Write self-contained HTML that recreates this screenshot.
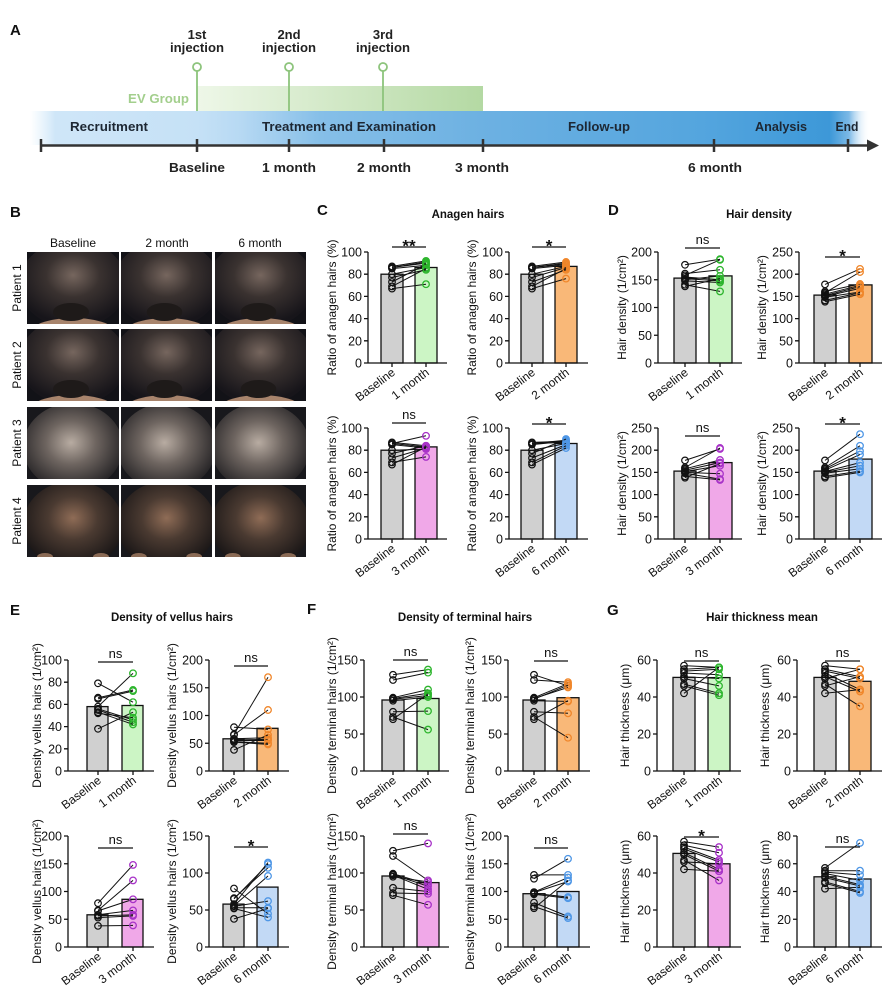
<!DOCTYPE html>
<html><head><meta charset="utf-8">
<style>
html,body{margin:0;padding:0;background:#fff;}
svg{display:block;font-family:"Liberation Sans",Arial,sans-serif;}
.ax path{stroke:#111;stroke-width:1.3;fill:none}
.ax text{font-size:12.5px;text-anchor:end;fill:#111}
.xl{font-size:12px;text-anchor:end;fill:#111}
.yl{font-size:12px;text-anchor:middle;fill:#111}
.bar{stroke:#111;stroke-width:1.3}
.sig{stroke:#111;stroke-width:1.3}
.ns{font-size:13px;text-anchor:middle;fill:#111}
.st{font-size:17px;font-weight:bold;text-anchor:middle;fill:#111}
.pr path{stroke:#111;stroke-width:1;fill:none;marker-start:url(#mk)}
.pg path{marker-end:url(#mg)}
.po path{marker-end:url(#mo)}
.pp path{marker-end:url(#mp)}
.pb path{marker-end:url(#mb)}
.lt{font-weight:bold;font-size:15px;fill:#111}
.ti{font-weight:bold;font-size:11.5px;text-anchor:middle;fill:#111}
.tl{font-weight:bold;font-size:13px;text-anchor:middle;fill:#222}
.hd{font-size:12px;text-anchor:middle;fill:#111}
</style></head>
<body>
<svg width="888" height="990" viewBox="0 0 888 990" xmlns="http://www.w3.org/2000/svg">
<defs>
<marker id="mk" viewBox="0 0 10 10" refX="5" refY="5" markerWidth="10" markerHeight="10" markerUnits="userSpaceOnUse"><circle cx="5" cy="5" r="3.3" fill="none" stroke="#111" stroke-width="1.2"/></marker>
<marker id="mg" viewBox="0 0 10 10" refX="5" refY="5" markerWidth="10" markerHeight="10" markerUnits="userSpaceOnUse"><circle cx="5" cy="5" r="3.3" fill="none" stroke="#2db52d" stroke-width="1.3"/></marker>
<marker id="mo" viewBox="0 0 10 10" refX="5" refY="5" markerWidth="10" markerHeight="10" markerUnits="userSpaceOnUse"><circle cx="5" cy="5" r="3.3" fill="none" stroke="#f0862a" stroke-width="1.3"/></marker>
<marker id="mp" viewBox="0 0 10 10" refX="5" refY="5" markerWidth="10" markerHeight="10" markerUnits="userSpaceOnUse"><circle cx="5" cy="5" r="3.3" fill="none" stroke="#a832c8" stroke-width="1.3"/></marker>
<marker id="mb" viewBox="0 0 10 10" refX="5" refY="5" markerWidth="10" markerHeight="10" markerUnits="userSpaceOnUse"><circle cx="5" cy="5" r="3.3" fill="none" stroke="#4f97e6" stroke-width="1.3"/></marker>
<linearGradient id="blue" gradientUnits="userSpaceOnUse" x1="30" y1="0" x2="870" y2="0">
<stop offset="0" stop-color="#d7ecfa" stop-opacity="0"/>
<stop offset="0.03" stop-color="#cfe6f8"/>
<stop offset="0.2" stop-color="#c5e1f6"/>
<stop offset="0.25" stop-color="#b7d9f3"/>
<stop offset="0.345" stop-color="#86bfe8"/>
<stop offset="0.536" stop-color="#6db1e2"/>
<stop offset="0.8" stop-color="#54a5de"/>
<stop offset="0.952" stop-color="#3d98d8"/>
<stop offset="0.975" stop-color="#7cb9e6"/>
<stop offset="1" stop-color="#ffffff" stop-opacity="0"/>
</linearGradient>
<linearGradient id="green" x1="0" y1="0" x2="1" y2="0">
<stop offset="0" stop-color="#eef7e8"/>
<stop offset="1" stop-color="#b4d9a3"/>
</linearGradient>
<radialGradient id="hf" cx="0.5" cy="0.4" r="0.55">
<stop offset="0" stop-color="#76665e"/><stop offset="0.45" stop-color="#3a3230"/><stop offset="1" stop-color="#17151a"/>
</radialGradient>
<radialGradient id="h3" cx="0.48" cy="0.45" r="0.55">
<stop offset="0" stop-color="#b8aca2"/><stop offset="0.45" stop-color="#6e6560"/><stop offset="1" stop-color="#262426"/>
</radialGradient>
<radialGradient id="h4" cx="0.5" cy="0.42" r="0.55">
<stop offset="0" stop-color="#8f6c56"/><stop offset="0.45" stop-color="#4a3a31"/><stop offset="1" stop-color="#1b1717"/>
</radialGradient>
<symbol id="pf" viewBox="0 0 92 72" preserveAspectRatio="none">
<rect width="92" height="72" fill="#121217"/>
<ellipse cx="46" cy="32" rx="54" ry="44" fill="url(#hf)"/>
<ellipse cx="46" cy="82" rx="44" ry="16" fill="#a8846c"/>
<ellipse cx="44" cy="60" rx="18" ry="9" fill="#1e1a19"/>
</symbol>
<symbol id="pc3" viewBox="0 0 92 72" preserveAspectRatio="none">
<rect width="92" height="72" fill="#18181c"/>
<ellipse cx="46" cy="40" rx="50" ry="44" fill="url(#h3)"/>
</symbol>
<symbol id="pc4" viewBox="0 0 92 72" preserveAspectRatio="none">
<rect width="92" height="72" fill="#18181c"/>
<ellipse cx="46" cy="40" rx="50" ry="44" fill="url(#h4)"/>
<ellipse cx="18" cy="72" rx="8" ry="4" fill="#8a6a55"/>
<ellipse cx="74" cy="72" rx="8" ry="4" fill="#8a6a55"/>
</symbol>
</defs>

<!-- Panel A -->
<text class="lt" x="10" y="35">A</text>
<rect x="197" y="86" width="286" height="25" fill="url(#green)"/>
<rect x="30" y="111" width="840" height="34" fill="url(#blue)"/>
<g stroke="#8dc47c" stroke-width="1.8" fill="#fff">
<line x1="197" y1="71" x2="197" y2="111"/><line x1="289" y1="71" x2="289" y2="111"/><line x1="383" y1="71" x2="383" y2="111"/>
<circle cx="197" cy="67" r="4"/><circle cx="289" cy="67" r="4"/><circle cx="383" cy="67" r="4"/>
</g>
<text class="tl" x="197" y="39">1st</text><text class="tl" x="197" y="52" textLength="54" lengthAdjust="spacingAndGlyphs">injection</text>
<text class="tl" x="289" y="39">2nd</text><text class="tl" x="289" y="52" textLength="54" lengthAdjust="spacingAndGlyphs">injection</text>
<text class="tl" x="383" y="39">3rd</text><text class="tl" x="383" y="52" textLength="54" lengthAdjust="spacingAndGlyphs">injection</text>
<text x="189" y="103" font-size="13" font-weight="bold" fill="#a3cf8d" text-anchor="end" textLength="61" lengthAdjust="spacingAndGlyphs">EV Group</text>
<g>
<text class="tl" style="fill:#1d2733" x="109" y="131" textLength="78" lengthAdjust="spacingAndGlyphs">Recruitment</text>
<text class="tl" style="fill:#1d2733" x="349" y="131" textLength="174" lengthAdjust="spacingAndGlyphs">Treatment and Examination</text>
<text class="tl" style="fill:#1d2733" x="599" y="131" textLength="62" lengthAdjust="spacingAndGlyphs">Follow-up</text>
<text class="tl" style="fill:#1d2733" x="781" y="131" textLength="52" lengthAdjust="spacingAndGlyphs">Analysis</text>
<text class="tl" style="fill:#1d2733" x="847" y="131" textLength="23" lengthAdjust="spacingAndGlyphs">End</text>
</g>
<g stroke="#333" stroke-width="2.5">
<line x1="41" y1="145.5" x2="870" y2="145.5"/>
<line x1="41" y1="139" x2="41" y2="152"/><line x1="197" y1="139" x2="197" y2="152"/><line x1="289" y1="139" x2="289" y2="152"/><line x1="384" y1="139" x2="384" y2="152"/><line x1="483" y1="139" x2="483" y2="152"/><line x1="714" y1="139" x2="714" y2="152"/><line x1="848" y1="139" x2="848" y2="152"/>
</g>
<polygon points="867,139.5 879,145.5 867,151.5" fill="#333"/>
<text class="tl" x="197" y="172" textLength="56" lengthAdjust="spacingAndGlyphs">Baseline</text>
<text class="tl" x="289" y="172" textLength="54" lengthAdjust="spacingAndGlyphs">1 month</text>
<text class="tl" x="384" y="172" textLength="54" lengthAdjust="spacingAndGlyphs">2 month</text>
<text class="tl" x="482" y="172" textLength="54" lengthAdjust="spacingAndGlyphs">3 month</text>
<text class="tl" x="715" y="172" textLength="54" lengthAdjust="spacingAndGlyphs">6 month</text>

<!-- Panel B -->
<text class="lt" x="10" y="217">B</text>
<text class="hd" x="73" y="247">Baseline</text>
<text class="hd" x="167" y="247">2 month</text>
<text class="hd" x="260" y="247">6 month</text>
<text class="hd" transform="translate(21,288) rotate(-90)">Patient 1</text>
<text class="hd" transform="translate(21,365) rotate(-90)">Patient 2</text>
<text class="hd" transform="translate(21,443) rotate(-90)">Patient 3</text>
<text class="hd" transform="translate(21,521) rotate(-90)">Patient 4</text>
<use href="#pf" x="27" y="252" width="92" height="72"/>
<use href="#pf" x="121" y="252" width="91" height="72"/>
<use href="#pf" x="215" y="252" width="91" height="72"/>
<use href="#pf" x="27" y="329" width="92" height="72"/>
<use href="#pf" x="121" y="329" width="91" height="72"/>
<use href="#pf" x="215" y="329" width="91" height="72"/>
<use href="#pc3" x="27" y="407" width="92" height="72"/>
<use href="#pc3" x="121" y="407" width="91" height="72"/>
<use href="#pc3" x="215" y="407" width="91" height="72"/>
<use href="#pc4" x="27" y="485" width="92" height="72"/>
<use href="#pc4" x="121" y="485" width="91" height="72"/>
<use href="#pc4" x="215" y="485" width="91" height="72"/>

<!-- Panel C -->
<text class="lt" x="317" y="215">C</text>
<text class="ti" x="468" y="218">Anagen hairs</text>
<!-- C1 -->
<rect class="bar" x="381" y="274.2" width="22" height="88.8" fill="#d0d0d0"/>
<rect class="bar" x="415" y="267.5" width="22" height="95.5" fill="#ccf5c5"/>
<g transform="translate(368,363)" class="ax"><path d="M0,-111V0H79M-4,0H0M-4,-22.2H0M-4,-44.4H0M-4,-66.6H0M-4,-88.8H0M-4,-111H0M24,0V4M58,0V4"/>
<text x="-6" y="4.5">0</text><text x="-6" y="-17.7">20</text><text x="-6" y="-39.9">40</text><text x="-6" y="-62.1">60</text><text x="-6" y="-84.3">80</text><text x="-6" y="-106.5">100</text></g>
<g class="pr pg"><path d="M392 266.4L426 260.9"/><path d="M392 267.5L426 263.1"/><path d="M392 267.5L426 262"/><path d="M392 268.6L426 265.3"/><path d="M392 274.2L426 267.5"/><path d="M392 277.5L426 269.8"/><path d="M392 282L426 264.2"/><path d="M392 286.4L426 268.6"/><path d="M392 288.6L426 284.2"/></g>
<line class="sig" x1="392" y1="247" x2="426" y2="247"/><text class="st" x="409" y="251.5">**</text>
<text class="xl" transform="translate(396,374) rotate(-37)">Baseline</text>
<text class="xl" transform="translate(430,374) rotate(-37)">1 month</text>
<text class="yl" transform="translate(336,307.5) rotate(-90)">Ratio of anagen hairs (%)</text>
<!-- C2 -->
<rect class="bar" x="521" y="274.2" width="22" height="88.8" fill="#d0d0d0"/>
<rect class="bar" x="555" y="266.4" width="22" height="96.6" fill="#f9b878"/>
<g transform="translate(509,363)" class="ax"><path d="M0,-111V0H79M-4,0H0M-4,-22.2H0M-4,-44.4H0M-4,-66.6H0M-4,-88.8H0M-4,-111H0M23,0V4M57,0V4"/>
<text x="-6" y="4.5">0</text><text x="-6" y="-17.7">20</text><text x="-6" y="-39.9">40</text><text x="-6" y="-62.1">60</text><text x="-6" y="-84.3">80</text><text x="-6" y="-106.5">100</text></g>
<g class="pr po"><path d="M532 266.4L566 262"/><path d="M532 267.5L566 264.2"/><path d="M532 267.5L566 263.1"/><path d="M532 268.6L566 265.3"/><path d="M532 274.2L566 266.4"/><path d="M532 277.5L566 267.5"/><path d="M532 282L566 269.8"/><path d="M532 286.4L566 268.6"/><path d="M532 288.6L566 278.6"/></g>
<line class="sig" x1="532" y1="247" x2="566" y2="247"/><text class="st" x="549" y="251.5">*</text>
<text class="xl" transform="translate(536,374) rotate(-37)">Baseline</text>
<text class="xl" transform="translate(570,374) rotate(-37)">2 month</text>
<text class="yl" transform="translate(476,307.5) rotate(-90)">Ratio of anagen hairs (%)</text>
<!-- C3 -->
<rect class="bar" x="381" y="450.2" width="22" height="88.8" fill="#d0d0d0"/>
<rect class="bar" x="415" y="446.9" width="22" height="92.1" fill="#f0a8e8"/>
<g transform="translate(368,539)" class="ax"><path d="M0,-111V0H79M-4,0H0M-4,-22.2H0M-4,-44.4H0M-4,-66.6H0M-4,-88.8H0M-4,-111H0M24,0V4M58,0V4"/>
<text x="-6" y="4.5">0</text><text x="-6" y="-17.7">20</text><text x="-6" y="-39.9">40</text><text x="-6" y="-62.1">60</text><text x="-6" y="-84.3">80</text><text x="-6" y="-106.5">100</text></g>
<g class="pr pp"><path d="M392 442.4L426 445.8"/><path d="M392 443.5L426 446.9"/><path d="M392 443.5L426 435.8"/><path d="M392 444.6L426 448"/><path d="M392 450.2L426 449.1"/><path d="M392 453.5L426 445.8"/><path d="M392 458L426 448"/><path d="M392 462.4L426 456.9"/><path d="M392 464.6L426 446.9"/></g>
<line class="sig" x1="392" y1="423" x2="426" y2="423"/><text class="ns" x="409" y="419">ns</text>
<text class="xl" transform="translate(396,550) rotate(-37)">Baseline</text>
<text class="xl" transform="translate(430,550) rotate(-37)">3 month</text>
<text class="yl" transform="translate(336,483.5) rotate(-90)">Ratio of anagen hairs (%)</text>
<!-- C4 -->
<rect class="bar" x="521" y="450.2" width="22" height="88.8" fill="#d0d0d0"/>
<rect class="bar" x="555" y="443.5" width="22" height="95.5" fill="#c2d9f5"/>
<g transform="translate(509,539)" class="ax"><path d="M0,-111V0H79M-4,0H0M-4,-22.2H0M-4,-44.4H0M-4,-66.6H0M-4,-88.8H0M-4,-111H0M23,0V4M57,0V4"/>
<text x="-6" y="4.5">0</text><text x="-6" y="-17.7">20</text><text x="-6" y="-39.9">40</text><text x="-6" y="-62.1">60</text><text x="-6" y="-84.3">80</text><text x="-6" y="-106.5">100</text></g>
<g class="pr pb"><path d="M532 442.4L566 441.3"/><path d="M532 443.5L566 442.4"/><path d="M532 443.5L566 440.2"/><path d="M532 444.6L566 441.3"/><path d="M532 450.2L566 443.5"/><path d="M532 453.5L566 439.1"/><path d="M532 458L566 444.6"/><path d="M532 462.4L566 445.8"/><path d="M532 464.6L566 448"/></g>
<line class="sig" x1="532" y1="424" x2="566" y2="424"/><text class="st" x="549" y="428.5">*</text>
<text class="xl" transform="translate(536,550) rotate(-37)">Baseline</text>
<text class="xl" transform="translate(570,550) rotate(-37)">6 month</text>
<text class="yl" transform="translate(476,483.5) rotate(-90)">Ratio of anagen hairs (%)</text>

<!-- Panel D -->
<text class="lt" x="608" y="215">D</text>
<text class="ti" x="759" y="218">Hair density</text>
<!-- D1 -->
<rect class="bar" x="674" y="278.1" width="22" height="84.9" fill="#d0d0d0"/>
<rect class="bar" x="709" y="275.9" width="23" height="87.1" fill="#ccf5c5"/>
<g transform="translate(658,363)" class="ax"><path d="M0,-111V0H84M-4,0H0M-4,-27.75H0M-4,-55.5H0M-4,-83.25H0M-4,-111H0M27,0V4M62,0V4"/>
<text x="-6" y="4.5">0</text><text x="-6" y="-23.25">50</text><text x="-6" y="-51">100</text><text x="-6" y="-78.75">150</text><text x="-6" y="-106.5">200</text></g>
<g class="pr pg"><path d="M685 264.8L720 259.2"/><path d="M685 273.6L720 269.8"/><path d="M685 275.3L720 259.8"/><path d="M685 277L720 279.8"/><path d="M685 278.6L720 280.9"/><path d="M685 279.8L720 275.9"/><path d="M685 280.9L720 282.5"/><path d="M685 284.7L720 291.4"/><path d="M685 286.4L720 278.6"/></g>
<line class="sig" x1="685" y1="248" x2="720" y2="248"/><text class="ns" x="702.5" y="244">ns</text>
<text class="xl" transform="translate(689,374) rotate(-37)">Baseline</text>
<text class="xl" transform="translate(724,374) rotate(-37)">1 month</text>
<text class="yl" transform="translate(626,307.5) rotate(-90)">Hair density (1/cm²)</text>
<!-- D2 -->
<rect class="bar" x="814" y="295.1" width="22" height="67.9" fill="#d0d0d0"/>
<rect class="bar" x="849" y="284.9" width="23" height="78.1" fill="#f9b878"/>
<g transform="translate(799,363)" class="ax"><path d="M0,-111V0H83M-4,0H0M-4,-22.2H0M-4,-44.4H0M-4,-66.6H0M-4,-88.8H0M-4,-111H0M26,0V4M61,0V4"/>
<text x="-6" y="4.5">0</text><text x="-6" y="-17.7">50</text><text x="-6" y="-39.9">100</text><text x="-6" y="-62.1">150</text><text x="-6" y="-84.3">200</text><text x="-6" y="-106.5">250</text></g>
<g class="pr po"><path d="M825 284.4L860 268.9"/><path d="M825 291.5L860 284"/><path d="M825 292.8L860 272"/><path d="M825 294.2L860 285.3"/><path d="M825 295.5L860 286.6"/><path d="M825 296.4L860 288.4"/><path d="M825 297.3L860 292"/><path d="M825 300.4L860 292.8"/><path d="M825 301.7L860 294.2"/></g>
<line class="sig" x1="825" y1="257" x2="860" y2="257"/><text class="st" x="842.5" y="261.5">*</text>
<text class="xl" transform="translate(829,374) rotate(-37)">Baseline</text>
<text class="xl" transform="translate(864,374) rotate(-37)">2 month</text>
<text class="yl" transform="translate(766,307.5) rotate(-90)">Hair density (1/cm²)</text>
<!-- D3 -->
<rect class="bar" x="674" y="471.1" width="22" height="67.9" fill="#d0d0d0"/>
<rect class="bar" x="709" y="462.6" width="23" height="76.4" fill="#f0a8e8"/>
<g transform="translate(658,539)" class="ax"><path d="M0,-111V0H84M-4,0H0M-4,-22.2H0M-4,-44.4H0M-4,-66.6H0M-4,-88.8H0M-4,-111H0M27,0V4M62,0V4"/>
<text x="-6" y="4.5">0</text><text x="-6" y="-17.7">50</text><text x="-6" y="-39.9">100</text><text x="-6" y="-62.1">150</text><text x="-6" y="-84.3">200</text><text x="-6" y="-106.5">250</text></g>
<g class="pr pp"><path d="M685 460.4L720 448.9"/><path d="M685 467.5L720 448"/><path d="M685 468.8L720 460"/><path d="M685 470.2L720 462.6"/><path d="M685 471.5L720 465.7"/><path d="M685 472.4L720 473.7"/><path d="M685 473.3L720 479.1"/><path d="M685 476.4L720 479.9"/><path d="M685 477.7L720 463.5"/></g>
<line class="sig" x1="685" y1="436" x2="720" y2="436"/><text class="ns" x="702.5" y="432">ns</text>
<text class="xl" transform="translate(689,550) rotate(-37)">Baseline</text>
<text class="xl" transform="translate(724,550) rotate(-37)">3 month</text>
<text class="yl" transform="translate(626,483.5) rotate(-90)">Hair density (1/cm²)</text>
<!-- D4 -->
<rect class="bar" x="814" y="471.1" width="22" height="67.9" fill="#d0d0d0"/>
<rect class="bar" x="849" y="459.1" width="23" height="79.9" fill="#c2d9f5"/>
<g transform="translate(799,539)" class="ax"><path d="M0,-111V0H83M-4,0H0M-4,-22.2H0M-4,-44.4H0M-4,-66.6H0M-4,-88.8H0M-4,-111H0M26,0V4M61,0V4"/>
<text x="-6" y="4.5">0</text><text x="-6" y="-17.7">50</text><text x="-6" y="-39.9">100</text><text x="-6" y="-62.1">150</text><text x="-6" y="-84.3">200</text><text x="-6" y="-106.5">250</text></g>
<g class="pr pb"><path d="M825 460.4L860 434.2"/><path d="M825 467.5L860 445.8"/><path d="M825 468.8L860 451.1"/><path d="M825 470.2L860 454.6"/><path d="M825 471.5L860 462.6"/><path d="M825 472.4L860 465.7"/><path d="M825 473.3L860 468.8"/><path d="M825 476.4L860 471.1"/><path d="M825 477.7L860 472.4"/></g>
<line class="sig" x1="825" y1="424" x2="860" y2="424"/><text class="st" x="842.5" y="428.5">*</text>
<text class="xl" transform="translate(829,550) rotate(-37)">Baseline</text>
<text class="xl" transform="translate(864,550) rotate(-37)">6 month</text>
<text class="yl" transform="translate(766,483.5) rotate(-90)">Hair density (1/cm²)</text>

<!-- Panel E -->
<text class="lt" x="10" y="615">E</text>
<text class="ti" x="172" y="621">Density of vellus hairs</text>
<!-- E1 -->
<rect class="bar" x="87" y="706.6" width="21" height="64.4" fill="#d0d0d0"/>
<rect class="bar" x="122" y="705.5" width="21" height="65.5" fill="#ccf5c5"/>
<g transform="translate(68,771)" class="ax"><path d="M0,-111V0H86M-4,0H0M-4,-22.2H0M-4,-44.4H0M-4,-66.6H0M-4,-88.8H0M-4,-111H0M30,0V4M65,0V4"/>
<text x="-6" y="4.5">0</text><text x="-6" y="-17.7">20</text><text x="-6" y="-39.9">40</text><text x="-6" y="-62.1">60</text><text x="-6" y="-84.3">80</text><text x="-6" y="-106.5">100</text></g>
<g class="pr pg"><path d="M98 683.3L133 702.2"/><path d="M98 697.7L133 690"/><path d="M98 698.9L133 691.1"/><path d="M98 706.6L133 673.3"/><path d="M98 708.8L133 719.9"/><path d="M98 710L133 722.2"/><path d="M98 712.2L133 724.4"/><path d="M98 713.3L133 717.7"/><path d="M98 728.8L133 712.2"/></g>
<line class="sig" x1="98" y1="662" x2="133" y2="662"/><text class="ns" x="115.5" y="658">ns</text>
<text class="xl" transform="translate(102,782) rotate(-37)">Baseline</text>
<text class="xl" transform="translate(137,782) rotate(-37)">1 month</text>
<text class="yl" transform="translate(41,715.5) rotate(-90)">Density vellus hairs (1/cm²)</text>
<!-- E2 -->
<rect class="bar" x="223" y="738.8" width="21" height="32.2" fill="#d0d0d0"/>
<rect class="bar" x="257" y="728.3" width="21" height="42.7" fill="#f9b878"/>
<g transform="translate(209,771)" class="ax"><path d="M0,-111V0H80M-4,0H0M-4,-27.75H0M-4,-55.5H0M-4,-83.25H0M-4,-111H0M25,0V4M59,0V4"/>
<text x="-6" y="4.5">0</text><text x="-6" y="-23.25">50</text><text x="-6" y="-51">100</text><text x="-6" y="-78.75">150</text><text x="-6" y="-106.5">200</text></g>
<g class="pr po"><path d="M234 727.2L268 729.4"/><path d="M234 734.4L268 677.2"/><path d="M234 734.9L268 710"/><path d="M234 738.8L268 737.7"/><path d="M234 739.9L268 739.4"/><path d="M234 740.5L268 740.5"/><path d="M234 741.6L268 743.3"/><path d="M234 742.1L268 744.4"/><path d="M234 749.9L268 734.9"/></g>
<line class="sig" x1="234" y1="666" x2="268" y2="666"/><text class="ns" x="251" y="662">ns</text>
<text class="xl" transform="translate(238,782) rotate(-37)">Baseline</text>
<text class="xl" transform="translate(272,782) rotate(-37)">2 month</text>
<text class="yl" transform="translate(176,715.5) rotate(-90)">Density vellus hairs (1/cm²)</text>
<!-- E3 -->
<rect class="bar" x="87" y="914.8" width="21" height="32.2" fill="#d0d0d0"/>
<rect class="bar" x="122" y="899.3" width="21" height="47.7" fill="#f0a8e8"/>
<g transform="translate(68,947)" class="ax"><path d="M0,-111V0H86M-4,0H0M-4,-27.75H0M-4,-55.5H0M-4,-83.25H0M-4,-111H0M30,0V4M65,0V4"/>
<text x="-6" y="4.5">0</text><text x="-6" y="-23.25">50</text><text x="-6" y="-51">100</text><text x="-6" y="-78.75">150</text><text x="-6" y="-106.5">200</text></g>
<g class="pr pp"><path d="M98 903.2L133 864.9"/><path d="M98 910.4L133 880.4"/><path d="M98 910.9L133 899.3"/><path d="M98 914.8L133 910.4"/><path d="M98 915.9L133 914.8"/><path d="M98 917.6L133 915.9"/><path d="M98 925.9L133 925.4"/></g>
<line class="sig" x1="98" y1="848" x2="133" y2="848"/><text class="ns" x="115.5" y="844">ns</text>
<text class="xl" transform="translate(102,958) rotate(-37)">Baseline</text>
<text class="xl" transform="translate(137,958) rotate(-37)">3 month</text>
<text class="yl" transform="translate(41,891.5) rotate(-90)">Density vellus hairs (1/cm²)</text>
<!-- E4 -->
<rect class="bar" x="223" y="904.1" width="21" height="42.9" fill="#d0d0d0"/>
<rect class="bar" x="257" y="887.1" width="21" height="59.9" fill="#c2d9f5"/>
<g transform="translate(209,947)" class="ax"><path d="M0,-111V0H80M-4,0H0M-4,-37H0M-4,-74H0M-4,-111H0M25,0V4M59,0V4"/>
<text x="-6" y="4.5">0</text><text x="-6" y="-32.5">50</text><text x="-6" y="-69.5">100</text><text x="-6" y="-106.5">150</text></g>
<g class="pr pb"><path d="M234 888.5L268 913.7"/><path d="M234 898.2L268 867.8"/><path d="M234 898.9L268 864.1"/><path d="M234 904.1L268 862.6"/><path d="M234 905.6L268 876"/><path d="M234 906.3L268 901.1"/><path d="M234 907.8L268 907.8"/><path d="M234 908.5L268 917.4"/><path d="M234 918.9L268 908.5"/></g>
<line class="sig" x1="234" y1="847" x2="268" y2="847"/><text class="st" x="251" y="851.5">*</text>
<text class="xl" transform="translate(238,958) rotate(-37)">Baseline</text>
<text class="xl" transform="translate(272,958) rotate(-37)">6 month</text>
<text class="yl" transform="translate(176,891.5) rotate(-90)">Density vellus hairs (1/cm²)</text>

<!-- Panel F -->
<text class="lt" x="307" y="614">F</text>
<text class="ti" x="465" y="621">Density of terminal hairs</text>
<!-- F1 -->
<rect class="bar" x="382" y="700" width="22" height="71" fill="#d0d0d0"/>
<rect class="bar" x="417" y="698.5" width="22" height="72.5" fill="#ccf5c5"/>
<g transform="translate(364,771)" class="ax"><path d="M0,-111V0H85M-4,0H0M-4,-37H0M-4,-74H0M-4,-111H0M29,0V4M64,0V4"/>
<text x="-6" y="4.5">0</text><text x="-6" y="-32.5">50</text><text x="-6" y="-69.5">100</text><text x="-6" y="-106.5">150</text></g>
<g class="pr pg"><path d="M393 674.8L428 669.6"/><path d="M393 680L428 672.6"/><path d="M393 697.7L428 689.6"/><path d="M393 698.5L428 693.3"/><path d="M393 699.2L428 695.5"/><path d="M393 700.7L428 697"/><path d="M393 711.8L428 711.1"/><path d="M393 717L428 729.6"/><path d="M393 719.2L428 694"/></g>
<line class="sig" x1="393" y1="660" x2="428" y2="660"/><text class="ns" x="410.5" y="656">ns</text>
<text class="xl" transform="translate(397,782) rotate(-37)">Baseline</text>
<text class="xl" transform="translate(432,782) rotate(-37)">1 month</text>
<text class="yl" transform="translate(336,715.5) rotate(-90)">Density terminal hairs (1/cm²)</text>
<!-- F2 -->
<rect class="bar" x="523" y="700" width="22" height="71" fill="#d0d0d0"/>
<rect class="bar" x="557" y="697.7" width="22" height="73.3" fill="#f9b878"/>
<g transform="translate(508,771)" class="ax"><path d="M0,-111V0H82M-4,0H0M-4,-37H0M-4,-74H0M-4,-111H0M26,0V4M60,0V4"/>
<text x="-6" y="4.5">0</text><text x="-6" y="-32.5">50</text><text x="-6" y="-69.5">100</text><text x="-6" y="-106.5">150</text></g>
<g class="pr po"><path d="M534 674.8L568 685.9"/><path d="M534 680L568 682.2"/><path d="M534 697.7L568 683.7"/><path d="M534 698.5L568 687.4"/><path d="M534 699.2L568 685.2"/><path d="M534 700.7L568 701.4"/><path d="M534 711.8L568 713.3"/><path d="M534 717L568 737.7"/><path d="M534 719.2L568 700.7"/></g>
<line class="sig" x1="534" y1="661" x2="568" y2="661"/><text class="ns" x="551" y="657">ns</text>
<text class="xl" transform="translate(538,782) rotate(-37)">Baseline</text>
<text class="xl" transform="translate(572,782) rotate(-37)">2 month</text>
<text class="yl" transform="translate(474,715.5) rotate(-90)">Density terminal hairs (1/cm²)</text>
<!-- F3 -->
<rect class="bar" x="382" y="876" width="22" height="71" fill="#d0d0d0"/>
<rect class="bar" x="417" y="882.6" width="22" height="64.4" fill="#f0a8e8"/>
<g transform="translate(364,947)" class="ax"><path d="M0,-111V0H85M-4,0H0M-4,-37H0M-4,-74H0M-4,-111H0M29,0V4M64,0V4"/>
<text x="-6" y="4.5">0</text><text x="-6" y="-32.5">50</text><text x="-6" y="-69.5">100</text><text x="-6" y="-106.5">150</text></g>
<g class="pr pp"><path d="M393 850.8L428 843.4"/><path d="M393 856L428 880.4"/><path d="M393 873.7L428 884.1"/><path d="M393 874.5L428 886.3"/><path d="M393 875.2L428 889.3"/><path d="M393 887.8L428 891.5"/><path d="M393 893L428 893.7"/><path d="M393 895.2L428 904.8"/><path d="M393 876.7L428 881.9"/></g>
<line class="sig" x1="393" y1="834" x2="428" y2="834"/><text class="ns" x="410.5" y="830">ns</text>
<text class="xl" transform="translate(397,958) rotate(-37)">Baseline</text>
<text class="xl" transform="translate(432,958) rotate(-37)">3 month</text>
<text class="yl" transform="translate(336,891.5) rotate(-90)">Density terminal hairs (1/cm²)</text>
<!-- F4 -->
<rect class="bar" x="523" y="893.7" width="22" height="53.3" fill="#d0d0d0"/>
<rect class="bar" x="557" y="891.5" width="22" height="55.5" fill="#c2d9f5"/>
<g transform="translate(508,947)" class="ax"><path d="M0,-111V0H82M-4,0H0M-4,-27.75H0M-4,-55.5H0M-4,-83.25H0M-4,-111H0M26,0V4M60,0V4"/>
<text x="-6" y="4.5">0</text><text x="-6" y="-23.25">50</text><text x="-6" y="-51">100</text><text x="-6" y="-78.75">150</text><text x="-6" y="-106.5">200</text></g>
<g class="pr pb"><path d="M534 874.9L568 874.9"/><path d="M534 878.7L568 858.8"/><path d="M534 892.1L568 877.6"/><path d="M534 892.6L568 881.5"/><path d="M534 893.2L568 897.1"/><path d="M534 894.3L568 898.2"/><path d="M534 902.6L568 916.5"/><path d="M534 906.5L568 918.1"/><path d="M534 908.2L568 880.4"/></g>
<line class="sig" x1="534" y1="848" x2="568" y2="848"/><text class="ns" x="551" y="844">ns</text>
<text class="xl" transform="translate(538,958) rotate(-37)">Baseline</text>
<text class="xl" transform="translate(572,958) rotate(-37)">6 month</text>
<text class="yl" transform="translate(474,891.5) rotate(-90)">Density terminal hairs (1/cm²)</text>

<!-- Panel G -->
<text class="lt" x="607" y="615">G</text>
<text class="ti" x="762" y="621">Hair thickness mean</text>
<!-- G1 -->
<rect class="bar" x="673" y="677.4" width="22" height="93.6" fill="#d0d0d0"/>
<rect class="bar" x="708" y="677.6" width="22" height="93.4" fill="#ccf5c5"/>
<g transform="translate(657,771)" class="ax"><path d="M0,-111V0H84M-4,0H0M-4,-37H0M-4,-74H0M-4,-111H0M27,0V4M62,0V4"/>
<text x="-6" y="4.5">0</text><text x="-6" y="-32.5">20</text><text x="-6" y="-69.5">40</text><text x="-6" y="-106.5">60</text></g>
<g class="pr pg"><path d="M684 665.6L719 667.4"/><path d="M684 669.3L719 667.4"/><path d="M684 671.1L719 669.3"/><path d="M684 673L719 674.8"/><path d="M684 676.7L719 678.5"/><path d="M684 678.5L719 685.9"/><path d="M684 684.1L719 693.3"/><path d="M684 685.9L719 695.2"/><path d="M684 693.3L719 667.4"/></g>
<line class="sig" x1="684" y1="661" x2="719" y2="661"/><text class="ns" x="701.5" y="657">ns</text>
<text class="xl" transform="translate(688,782) rotate(-37)">Baseline</text>
<text class="xl" transform="translate(723,782) rotate(-37)">1 month</text>
<text class="yl" transform="translate(629,715.5) rotate(-90)">Hair thickness (μm)</text>
<!-- G2 -->
<rect class="bar" x="814" y="677.4" width="22" height="93.6" fill="#d0d0d0"/>
<rect class="bar" x="849" y="681.3" width="22" height="89.7" fill="#f9b878"/>
<g transform="translate(797,771)" class="ax"><path d="M0,-111V0H85M-4,0H0M-4,-37H0M-4,-74H0M-4,-111H0M28,0V4M63,0V4"/>
<text x="-6" y="4.5">0</text><text x="-6" y="-32.5">20</text><text x="-6" y="-69.5">40</text><text x="-6" y="-106.5">60</text></g>
<g class="pr po"><path d="M825 665.6L860 669.3"/><path d="M825 669.3L860 676.7"/><path d="M825 671.1L860 678.5"/><path d="M825 673L860 689.6"/><path d="M825 676.7L860 691.5"/><path d="M825 678.5L860 669.3"/><path d="M825 684.1L860 706.3"/><path d="M825 685.9L860 676.7"/><path d="M825 693.3L860 689.6"/></g>
<line class="sig" x1="825" y1="661" x2="860" y2="661"/><text class="ns" x="842.5" y="657">ns</text>
<text class="xl" transform="translate(829,782) rotate(-37)">Baseline</text>
<text class="xl" transform="translate(864,782) rotate(-37)">2 month</text>
<text class="yl" transform="translate(769,715.5) rotate(-90)">Hair thickness (μm)</text>
<!-- G3 -->
<rect class="bar" x="673" y="853.4" width="22" height="93.6" fill="#d0d0d0"/>
<rect class="bar" x="708" y="863.8" width="22" height="83.2" fill="#f0a8e8"/>
<g transform="translate(657,947)" class="ax"><path d="M0,-111V0H84M-4,0H0M-4,-37H0M-4,-74H0M-4,-111H0M27,0V4M62,0V4"/>
<text x="-6" y="4.5">0</text><text x="-6" y="-32.5">20</text><text x="-6" y="-69.5">40</text><text x="-6" y="-106.5">60</text></g>
<g class="pr pp"><path d="M684 841.6L719 847.1"/><path d="M684 845.3L719 852.7"/><path d="M684 847.1L719 860.1"/><path d="M684 849L719 861.9"/><path d="M684 852.7L719 869.3"/><path d="M684 854.5L719 871.2"/><path d="M684 860.1L719 880.4"/><path d="M684 861.9L719 863.8"/><path d="M684 869.3L719 871.2"/></g>
<line class="sig" x1="684" y1="837" x2="719" y2="837"/><text class="st" x="701.5" y="841.5">*</text>
<text class="xl" transform="translate(688,958) rotate(-37)">Baseline</text>
<text class="xl" transform="translate(723,958) rotate(-37)">3 month</text>
<text class="yl" transform="translate(629,891.5) rotate(-90)">Hair thickness (μm)</text>
<!-- G4 -->
<rect class="bar" x="814" y="876.8" width="22" height="70.2" fill="#d0d0d0"/>
<rect class="bar" x="849" y="879" width="22" height="68" fill="#c2d9f5"/>
<g transform="translate(797,947)" class="ax"><path d="M0,-111V0H85M-4,0H0M-4,-27.75H0M-4,-55.5H0M-4,-83.25H0M-4,-111H0M28,0V4M63,0V4"/>
<text x="-6" y="4.5">0</text><text x="-6" y="-23.25">20</text><text x="-6" y="-51">40</text><text x="-6" y="-78.75">60</text><text x="-6" y="-106.5">80</text></g>
<g class="pr pb"><path d="M825 867.9L860 842.9"/><path d="M825 870.7L860 870.7"/><path d="M825 872.1L860 874.9"/><path d="M825 873.5L860 880.4"/><path d="M825 876.2L860 884.6"/><path d="M825 877.6L860 886"/><path d="M825 881.8L860 891.5"/><path d="M825 883.2L860 892.9"/><path d="M825 888.7L860 887.3"/></g>
<line class="sig" x1="825" y1="847" x2="860" y2="847"/><text class="ns" x="842.5" y="843">ns</text>
<text class="xl" transform="translate(829,958) rotate(-37)">Baseline</text>
<text class="xl" transform="translate(864,958) rotate(-37)">6 month</text>
<text class="yl" transform="translate(769,891.5) rotate(-90)">Hair thickness (μm)</text>
</svg>
</body></html>
